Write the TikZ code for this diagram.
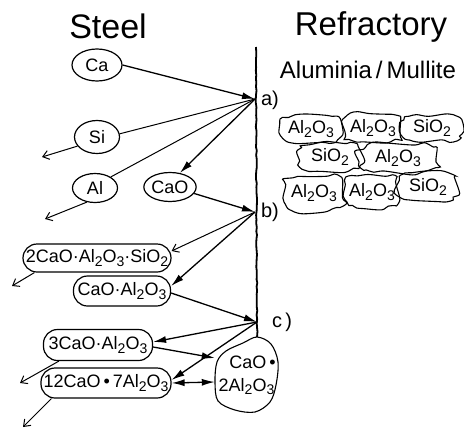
\documentclass[tikz,border=0pt]{standalone}
\usepackage{fontspec}
\setmainfont{Liberation Sans}
\usetikzlibrary{arrows.meta,shapes.geometric,decorations.pathmorphing}
% lowered subscript digits
\newcommand\dn[1]{\raisebox{-0.35ex}{\fontsize{14}{14}\selectfont #1}}
% irregular refractory grain: name, cx, cy, rx, ry, seed, text
\newcommand\grain[7]{%
  \pgfmathsetseed{#6}%
  \draw[grainline] plot[smooth cycle, tension=0.55, samples=22, domain=4:331.27, variable=\t]
    ({#2+#4*sign(cos(\t))*abs(cos(\t))^0.55*(1+0.1*rand)},
     {#3+#5*sign(sin(\t))*abs(sin(\t))^0.55*(1+0.14*rand)});
  \node[txt] (#1) at (#2,#3) {#7};}
\begin{document}
\begin{tikzpicture}[x=1pt,y=-1pt,
  txt/.style={font=\fontsize{18}{18}\selectfont, inner sep=0pt},
  elem/.style={draw, ellipse, line width=1.2pt, inner sep=0pt, font=\fontsize{18}{18}\selectfont},
  phase/.style={draw, rectangle, rounded corners=14pt, line width=1.2pt, minimum height=29pt, inner sep=0pt, font=\fontsize{18}{18}\selectfont},
  feed/.style={line width=1.3pt, -{Latex[length=13pt,width=7pt]}},
  link/.style={line width=1pt},
  loss/.style={line width=1pt, -{Straight Barb[length=6pt,width=9pt]}},
  grainline/.style={line width=1.1pt},
  head/.style={inner sep=0pt, anchor=base},
]
\useasboundingbox (0,0) rectangle (464,429);

% headings
\node[head, font=\fontsize{34}{34}\selectfont] (steel) at (108,38) {Steel};
\node[head, font=\fontsize{33}{33}\selectfont] (refr) at (371,35) {Refractory};
\node[head, font=\fontsize{24}{24}\selectfont] (mat) at (368,78) {Aluminia\,/\,Mullite};

% steel / refractory boundary
\draw[line width=1.8pt, decorate, decoration={random steps, segment length=4pt, amplitude=0.5pt}]
  (256,47) -- (257,337);
\coordinate (a) at (255,99);
\coordinate (b) at (255,212);
\coordinate (c) at (257,322);
\node[txt, font=\fontsize{20}{20}\selectfont] (la) at (270,100) {a)};
\node[txt, font=\fontsize{20}{20}\selectfont] (lb) at (270,212) {b)};
\node[txt, font=\fontsize{20}{20}\selectfont] (lc) at (282,322) {c\,)};

% refractory grains
\grain{g1}{311}{129}{31}{14}{11}{Al\dn2O\dn3}
\grain{g2}{373}{128}{30}{15}{23}{Al\dn2O\dn3}
\grain{g3}{432}{128}{30}{13.5}{37}{SiO\dn2}
\grain{g4}{330}{157}{32}{14.5}{41}{SiO\dn2}
\grain{g5}{398}{158}{40}{15}{53}{Al\dn2O\dn3}
\grain{g6}{314}{193}{31}{19}{67}{Al\dn2O\dn3}
\grain{g7}{372}{192}{28}{17}{79}{Al\dn2O\dn3}
\grain{g8}{428}{187}{31}{15}{83}{SiO\dn2}

% elements dissolved in steel
\node[elem, minimum width=50pt, minimum height=32pt] (ca) at (97,65) {Ca};
\node[elem, minimum width=45pt, minimum height=33pt] (si) at (97,137) {Si};
\node[elem, minimum width=45pt, minimum height=29pt] (al) at (95,188) {Al};
\node[elem, minimum width=51pt, minimum height=29pt] (cao) at (170,187) {CaO};

% inclusion phases
\node[phase, minimum width=148pt, minimum height=28pt] (cas) at (97,258) {2CaO·Al\dn2O\dn3·SiO\dn2};
\node[phase, minimum width=97pt, minimum height=30pt] (ca1) at (122,291) {CaO·Al\dn2O\dn3};
\node[phase, minimum width=109pt, minimum height=31pt] (c3a) at (98,345) {3CaO·Al\dn2O\dn3};
\node[phase, minimum width=130pt, minimum height=30pt] (c12) at (106,383) {12CaO\,•\,7Al\dn2O\dn3};

\coordinate (siout) at (42,157);
\coordinate (alout) at (45,219);
\coordinate (casout) at (12,286);
\coordinate (c3aout) at (20,383);
\coordinate (c12out) at (23,427);

% stage a)
\draw[feed] (ca.east) -- (a);
\draw[link] (a) -- (si.8);
\draw[loss] (si.205) -- (siout);
\draw[link] (a) -- (al.35);
\draw[loss] (al.240) -- (alout);
\draw[feed] (a) -- (cao.55);

% stage b)
\draw[feed] (cao.-15) -- (b);
\draw[loss] (b) -- ([yshift=7pt]cas.east);
\draw[loss] ([xshift=12pt]cas.south west) -- (casout);
\draw[feed] (b) -- ([yshift=5pt]ca1.east);

% stage c)
\draw[feed] ([yshift=-2pt]ca1.east) -- (c);
\draw[feed] (c) -- ([yshift=3pt]c3a.east);
\draw[feed] (c) -- ([yshift=3pt]c12.east);

% CaO.2Al2O3 particle at the wall
\draw[grainline, fill=white] plot[smooth cycle, tension=0.55] coordinates
  {(257,337) (271,344) (278,362) (276,385) (270,402) (255,412) (235,410)
   (218,401) (215,382) (217,362) (226,351) (243,343)};
\node[txt, minimum width=63pt, minimum height=76pt, align=center] (ca2) at (246.5,375)
  {\hspace*{12pt}CaO\,•\\[5pt]2Al\dn2O\dn3};

\draw[feed] ([yshift=-2pt]c3a.east) -- ([yshift=17pt]ca2.west);
\draw[line width=1.3pt, {Latex[length=13pt,width=7pt]}-{Latex[length=13pt,width=7pt]}]
  (c12.east) -- ([yshift=-7pt]ca2.west);
\draw[loss] ([xshift=16pt]c3a.south west) -- (c3aout);
\draw[loss] ([xshift=11pt]c12.south west) -- (c12out);
\end{tikzpicture}
\end{document}
